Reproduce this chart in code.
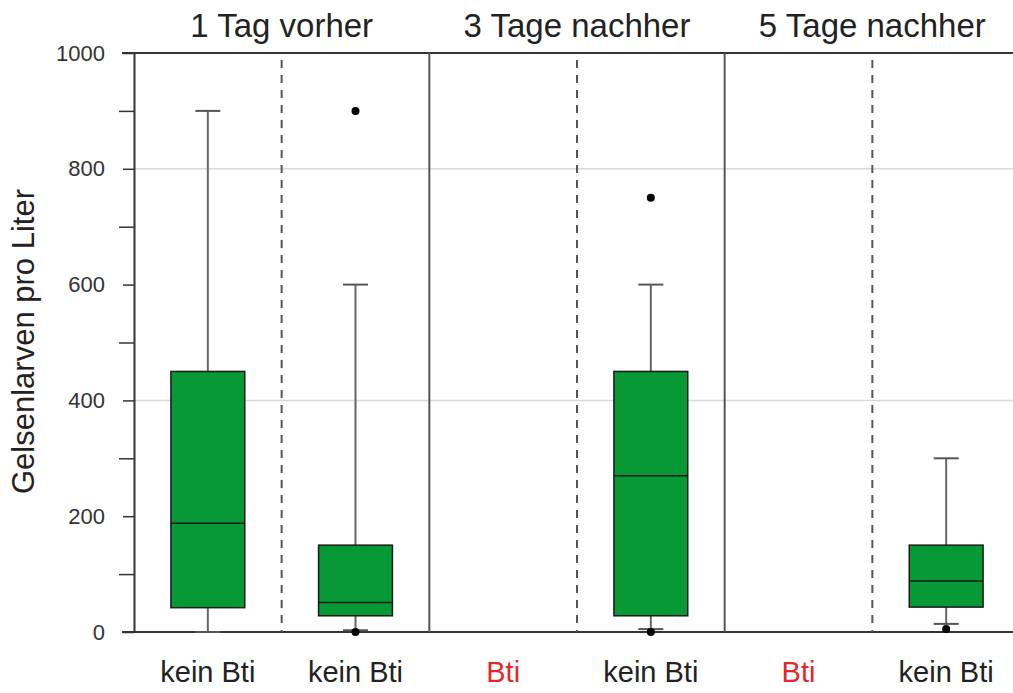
<!DOCTYPE html>
<html>
<head>
<meta charset="utf-8">
<script src="https://cdn.jsdelivr.net/npm/d3@7"></script>
<style>
  body { margin: 0; background: #fff; }
  svg text { font-family: "Liberation Sans", Arial, sans-serif; }
</style>
</head>
<body>
<div class="vis-boxplot"></div>
<script>
// data
const groups = ["1 Tag vorher", "3 Tage nachher", "5 Tage nachher"];
const categories = ["kein Bti", "kein Bti", "Bti", "kein Bti", "Bti", "kein Bti"];
const lowWhisker = [0, 3, null, 5, null, 14];
const q1 = [42, 28, null, 28, null, 43];
const median = [188, 51, null, 270, null, 88];
const q3 = [450, 150, null, 450, null, 150];
const highWhisker = [900, 600, null, 600, null, 300];
const outliers = [[], [0, 900], [], [0, 750], [], [5]];
const yTicks = [0, 100, 200, 300, 400, 500, 600, 700, 800, 900, 1000];
const gridValues = [400, 800];

const draw = () => {
  const W = 1013, H = 693;
  const margin = { top: 53, left: 134, bottom: 61 };
  const svg = d3
    .select(".vis-boxplot")
    .append("svg")
    .attr("width", W)
    .attr("height", H);

  const x = d3
    .scaleBand()
    .domain(d3.range(categories.length))
    .range([margin.left, 1020])
    .padding(0);
  const y = d3
    .scaleLinear()
    .domain([0, 1000])
    .range([H - margin.bottom, margin.top]);

  const bw = x.bandwidth();
  const boxW = bw * 0.5;
  const capW = 25;

  // grid
  svg
    .append("g")
    .selectAll("line")
    .data(gridValues)
    .join("line")
    .attr("x1", margin.left)
    .attr("x2", W)
    .attr("y1", d => y(d))
    .attr("y2", d => y(d))
    .attr("stroke", "#d8d8d8")
    .attr("stroke-width", 1.5);

  // top and bottom frame lines
  [0, 1000].forEach(v => {
    svg
      .append("line")
      .attr("x1", margin.left - 12)
      .attr("x2", W)
      .attr("y1", y(v))
      .attr("y2", y(v))
      .attr("stroke", "#333")
      .attr("stroke-width", 2);
  });

  // dividers between categories
  d3.range(1, categories.length).forEach(i => {
    svg
      .append("line")
      .attr("x1", x(i))
      .attr("x2", x(i))
      .attr("y1", y(1000) + (i % 2 ? 7 : 0))
      .attr("y2", y(0))
      .attr("stroke", "#555")
      .attr("stroke-width", 2)
      .attr("stroke-dasharray", i % 2 ? "8,7" : null);
  });

  // y axis
  const yAxis = svg
    .append("g")
    .attr("transform", "translate(" + margin.left + ",0)")
    .call(
      d3
        .axisLeft(y)
        .tickValues(yTicks)
        .tickSize(0)
        .tickPadding(29)
        .tickFormat(d => (d % 200 === 0 ? d : ""))
    );
  yAxis.select(".domain").attr("stroke", "#333").attr("stroke-width", 2);
  yAxis
    .selectAll(".tick")
    .append("line")
    .attr("x1", d => (d % 200 === 0 ? -11 : -15))
    .attr("x2", 0)
    .attr("stroke", "#333")
    .attr("stroke-width", 1.5);
  yAxis
    .selectAll(".tick text")
    .attr("fill", "#333")
    .style("font-size", "22px");

  // y title
  svg
    .append("text")
    .attr("transform", "translate(34," + ((y(0) + y(1000)) / 2 - 1) + ") rotate(-90)")
    .attr("text-anchor", "middle")
    .attr("fill", "#222")
    .style("font-size", "31px")
    .text("Gelsenlarven pro Liter");

  // group titles
  svg
    .append("g")
    .selectAll("text")
    .data(groups)
    .join("text")
    .attr("x", (d, i) => x(i * 2) + bw)
    .attr("y", 37)
    .attr("text-anchor", "middle")
    .attr("fill", "#222")
    .style("font-size", "33px")
    .text(d => d);

  // category labels
  svg
    .append("g")
    .selectAll("text")
    .data(categories)
    .join("text")
    .attr("x", (d, i) => x(i) + bw / 2)
    .attr("y", 682)
    .attr("text-anchor", "middle")
    .attr("fill", d => (d === "Bti" ? "#e3272b" : "#222"))
    .style("font-size", "29px")
    .text(d => d);

  // boxes
  const idx = d3.range(categories.length).filter(i => q1[i] !== null);
  const boxes = svg
    .append("g")
    .selectAll("g")
    .data(idx)
    .join("g")
    .attr("transform", i => "translate(" + (x(i) + bw / 2) + ",0)");

  boxes
    .append("line")
    .attr("y1", i => y(lowWhisker[i]))
    .attr("y2", i => y(highWhisker[i]))
    .attr("stroke", "#666")
    .attr("stroke-width", 2);
  boxes
    .selectAll(".cap")
    .data(i => [lowWhisker[i], highWhisker[i]])
    .join("line")
    .attr("class", "cap")
    .attr("x1", -capW / 2)
    .attr("x2", capW / 2)
    .attr("y1", d => y(d))
    .attr("y2", d => y(d))
    .attr("stroke", "#555")
    .attr("stroke-width", 2);
  boxes
    .append("rect")
    .attr("x", -boxW / 2)
    .attr("width", boxW)
    .attr("y", i => y(q3[i]))
    .attr("height", i => y(q1[i]) - y(q3[i]))
    .attr("fill", "#079935")
    .attr("stroke", "#1a1a1a")
    .attr("stroke-width", 1.5);
  boxes
    .append("line")
    .attr("x1", -boxW / 2)
    .attr("x2", boxW / 2)
    .attr("y1", i => y(median[i]))
    .attr("y2", i => y(median[i]))
    .attr("stroke", "#1a1a1a")
    .attr("stroke-width", 1.5);
  boxes
    .selectAll("circle")
    .data(i => outliers[i])
    .join("circle")
    .attr("cy", d => y(d))
    .attr("r", 4)
    .attr("fill", "#000");
};

draw();
</script>
</body>
</html>
